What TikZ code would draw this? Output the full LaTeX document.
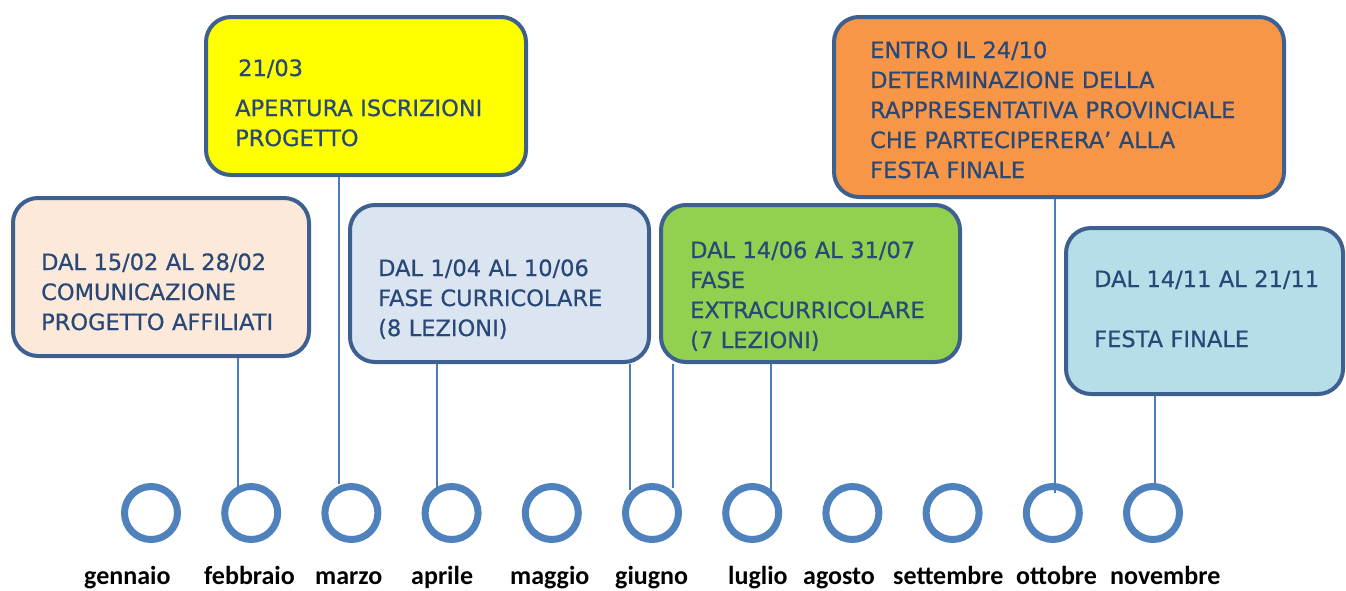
\documentclass[tikz,border=0pt]{standalone}
\usepackage{fontspec}
\newfontfamily\boxfont[FakeBold=0.6]{DejaVu Sans}
\newfontfamily\monthfont{Carlito}
\definecolor{bordc}{HTML}{3D6090}
\definecolor{txtc}{HTML}{284878}
\definecolor{ringc}{HTML}{4F81BD}
\definecolor{connc}{HTML}{4A7DBA}
\definecolor{peach}{HTML}{FDE9D9}
\definecolor{bgrey}{HTML}{DBE5F1}
\definecolor{lgreen}{HTML}{92D050}
\definecolor{orng}{HTML}{F79646}
\definecolor{lblue}{HTML}{B7DEE8}
\definecolor{yel}{HTML}{FFFF00}
\tikzset{
  evbox/.style={draw=bordc, line width=4pt, rounded corners=25pt, inner sep=0pt},
  evtext/.style={anchor=base west, inner sep=0pt, text=txtc, align=left, text width=#1,
    font={\boxfont\fontsize{22.5}{30}\selectfont}},
  ring/.style={circle, draw=ringc, line width=7pt, minimum size=53pt, inner sep=0pt},
  month/.style={anchor=base west, inner sep=0pt, font={\monthfont\bfseries\fontsize{26}{30}\selectfont}},
  conn/.style={draw=connc, line width=1.6pt}
}
\begin{document}
\begin{tikzpicture}[x=1pt,y=-1pt]
\useasboundingbox (0,0) rectangle (1346,590);
% boxes
\node[evbox, fill=peach, minimum width=296pt, minimum height=158pt] (pbox) at (161,277) {};
\node[evbox, fill=yel, minimum width=320pt, minimum height=158pt] (ybox) at (366,96) {};
\node[evbox, fill=bgrey, minimum width=299pt, minimum height=157pt] (gbox) at (499.5,283.5) {};
\node[evbox, fill=lgreen, minimum width=299pt, minimum height=157pt] (grbox) at (810.5,283.5) {};
\node[evbox, fill=orng, minimum width=450pt, minimum height=180pt] (obox) at (1059,107) {};
\node[evbox, fill=lblue, minimum width=277pt, minimum height=166pt] (lbox) at (1204.5,311) {};
% texts
\node[evtext=270pt] (ptxt) at (41,270) {DAL 15/02 AL 28/02\\COMUNICAZIONE\\PROGETTO AFFILIATI};
\node[evtext=290pt] (ytxt) at (235,76) {\hspace*{3pt}21/03\\[10pt]APERTURA ISCRIZIONI\\PROGETTO};
\node[evtext=270pt] (gtxt) at (378,276) {DAL 1/04 AL 10/06\\FASE CURRICOLARE\\(8 LEZIONI)};
\node[evtext=270pt] (grtxt) at (690,258) {DAL 14/06 AL 31/07\\FASE\\EXTRACURRICOLARE\\(7 LEZIONI)};
\node[evtext=410pt] (otxt) at (870,58) {ENTRO IL 24/10\\DETERMINAZIONE DELLA\\RAPPRESENTATIVA PROVINCIALE\\CHE PARTECIPERERA’ ALLA\\FESTA FINALE};
\node[evtext=245pt] (ltxt) at (1094,287) {DAL 14/11 AL 21/11\\[30pt]FESTA FINALE};
% circles
\foreach \i in {1,...,11} {
  \node[ring] (m\i) at ({151+100.2*(\i-1)},513) {};
}
% month labels
\node[month] (l1) at (84,584) {gennaio};
\node[month] (l2) at (204,584) {febbraio};
\node[month] (l3) at (315,584) {marzo};
\node[month] (l4) at (411,584) {aprile};
\node[month] (l5) at (510,584) {maggio};
\node[month] (l6) at (615,584) {giugno};
\node[month] (l7) at (728,584) {luglio};
\node[month] (l8) at (803,584) {agosto};
\node[month] (l9) at (893,584) {settembre};
\node[month] (l10) at (1016,584) {ottobre};
\node[month] (l11) at (1110,584) {novembre};
% connector ends
\coordinate (e1) at (238,491);
\coordinate (e2) at (339,484);
\coordinate (e3) at (437,490);
\coordinate (e4) at (630,490);
\coordinate (e5) at (673,488);
\coordinate (e6) at (771,495);
\coordinate (e7) at (1055,493);
\coordinate (e8) at (1155,484);
\draw[conn] (pbox.south -| e1) -- (e1);
\draw[conn] (ybox.south -| e2) -- (e2);
\draw[conn] (gbox.south -| e3) -- (e3);
\draw[conn] (gbox.south -| e4) -- (e4);
\draw[conn] (grbox.south -| e5) -- (e5);
\draw[conn] (grbox.south -| e6) -- (e6);
\draw[conn] (obox.south -| e7) -- (e7);
\draw[conn] (lbox.south -| e8) -- (e8);
\end{tikzpicture}
\end{document}
